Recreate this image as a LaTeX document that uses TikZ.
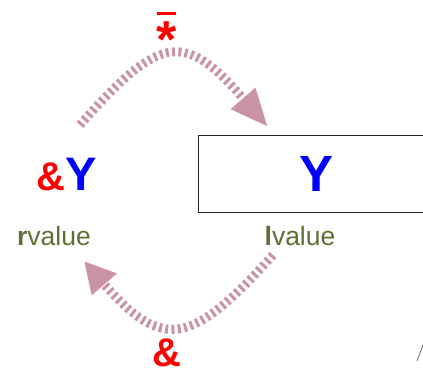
\documentclass[tikz,border=0pt]{standalone}
\usepackage{fontspec}
\setmainfont{Liberation Sans}
\usetikzlibrary{arrows.meta}
\definecolor{cPtr}{RGB}{201,147,163}
\definecolor{cVal}{RGB}{92,112,52}
\definecolor{cOp}{RGB}{255,0,0}
\definecolor{cVar}{RGB}{0,0,255}
\tikzset{
	opsym/.style ={text=cOp, font=\fontsize{40}{44}\selectfont\bfseries, inner sep=0pt},
	valtag/.style={text=cVal, font=\fontsize{26.5}{30}\selectfont, inner sep=0pt},
	objbox/.style={rectangle, draw=black!85, line width=0.9pt, minimum width=238pt, minimum height=77pt, inner sep=0pt, text=cVar, font=\fontsize{51}{55}\selectfont\bfseries},
	ptrarrow/.style={draw=cPtr, line width=9pt, dash pattern=on 3pt off 3.3pt},
}

\begin{document}
\begin{tikzpicture}[x=1pt, y=-1pt]
	\useasboundingbox (0,0) rectangle (423,372);
	\clip (0,0) rectangle (423,372);
	% the object and its address
	\node[objbox] (objY) at (317,174) {Y};
	\node[anchor=base, inner sep=0pt] (addrY) at (67,190) {\textcolor{cOp}{\fontsize{40}{44}\selectfont\bfseries\&}\textcolor{cVar}{\fontsize{47}{50}\selectfont\bfseries Y}};
	\node[valtag] (rval) at (54,236) {\textbf{r}value};
	\node[valtag] (lval) at (300,236) {\textbf{l}value};
	% operators
	\node[opsym, anchor=north, font=\fontsize{52}{56}\selectfont\bfseries] (deref) at (166.5,12) {\shortstack{\rule{19pt}{2.5pt}\\[4pt]*}};
	\node[opsym, anchor=base] (addr) at (167,366) {\&};
	% arrow ends
	\coordinate (derefA) at (80,125);
	\coordinate (derefB) at (268,127);
	\coordinate (addrA) at (273,255);
	\coordinate (addrB) at (84,261);
	\draw[ptrarrow, -{Triangle[length=38pt, width=30pt]}] (derefA) .. controls (162,31) and (186,33) .. (derefB);
	\draw[ptrarrow, -{Triangle[length=31pt, width=31pt]}] (addrA) .. controls (192,345) and (163,352) .. (addrB);
	\draw[black!60, line width=0.8pt] (417,361) -- (423,345);
\end{tikzpicture}
\end{document}
